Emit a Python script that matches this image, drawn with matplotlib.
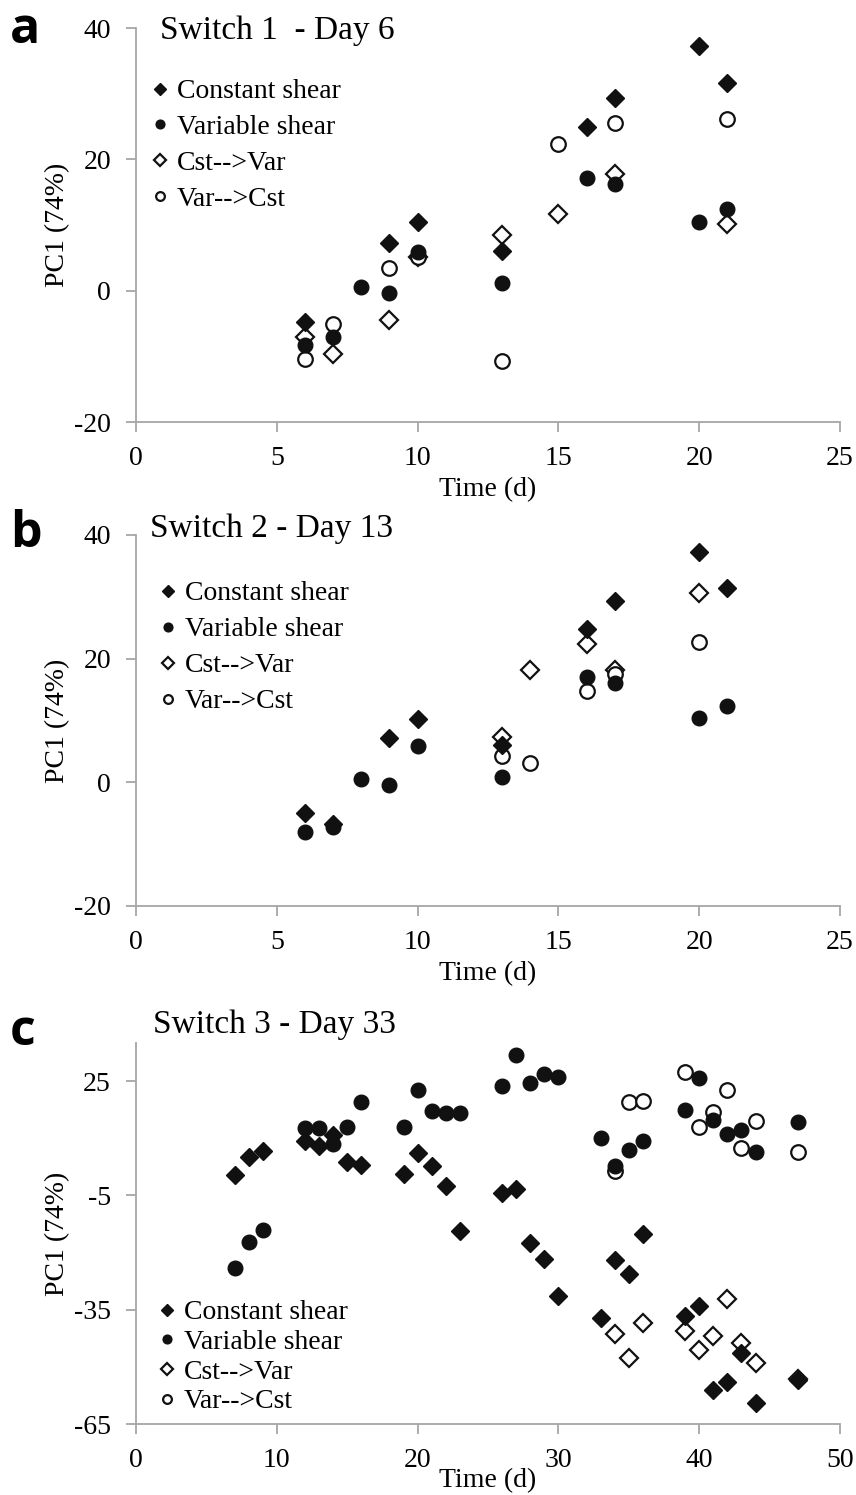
import matplotlib
matplotlib.use('Agg')
import matplotlib.pyplot as plt

plt.rcParams['font.family'] = ['Liberation Serif', 'DejaVu Serif']
plt.rcParams['axes.unicode_minus'] = False

# ---- panel a: Switch 1 - Day 6
a_cst_x = [6, 9, 10, 13, 16, 17, 20, 21]
a_cst_y = [-4.7, 7.3, 10.4, 6.1, 25.0, 29.4, 37.3, 31.6]
a_var_x = [6, 7, 8, 9, 10, 13, 16, 17, 20, 21]
a_var_y = [-8.2, -7.0, 0.6, -0.3, 5.9, 1.1, 17.1, 16.2, 10.5, 12.5]
a_c2v_x = [6, 7, 9, 10, 13, 15, 17, 21]
a_c2v_y = [-7.0, -9.6, -4.4, 5.2, 8.5, 11.7, 17.7, 10.1]
a_v2c_x = [6, 7, 9, 10, 13, 15, 17, 21]
a_v2c_y = [-10.4, -5.0, 3.5, 5.2, -10.7, 22.3, 25.5, 26.1]

# ---- panel b: Switch 2 - Day 13
b_cst_x = [6, 7, 9, 10, 13, 16, 17, 20, 21]
b_cst_y = [-4.9, -6.8, 7.1, 10.2, 6.0, 24.8, 29.3, 37.2, 31.4]
b_var_x = [6, 7, 8, 9, 10, 13, 16, 17, 20, 21]
b_var_y = [-8.1, -7.2, 0.5, -0.5, 5.8, 0.8, 17.0, 16.0, 10.4, 12.3]
b_c2v_x = [13, 14, 16, 17, 20]
b_c2v_y = [7.4, 18.1, 22.3, 18.1, 30.7]
b_v2c_x = [13, 14, 16, 17, 20]
b_v2c_y = [4.2, 3.1, 14.7, 17.5, 22.7]

# ---- panel c: Switch 3 - Day 33
c_cst_x = [7, 8, 9, 12, 13, 14, 15, 16, 19, 20, 21, 22, 23, 26, 27, 28, 29, 30,
           33, 34, 35, 36, 39, 40, 41, 42, 43, 44, 47]
c_cst_y = [0.3, 5.1, 6.6, 9.3, 7.9, 10.8, 3.7, 3.0, 0.6, 6.1, 2.7, -2.6, -14.4,
           -4.4, -3.3, -17.5, -21.7, -31.4, -37.2, -22.0, -25.7, -15.2, -36.7,
           -34.1, -56.1, -54.0, -46.4, -59.5, -53.5]
c_var_x = [7, 8, 9, 12, 13, 14, 15, 16, 19, 20, 21, 22, 23, 26, 27, 28, 29, 30,
           33, 34, 35, 36, 39, 40, 41, 42, 43, 44, 47]
c_var_y = [-24.1, -17.3, -14.1, 12.7, 12.7, 8.5, 12.9, 19.5, 12.9, 22.6, 17.1,
           16.6, 16.6, 23.7, 31.8, 24.5, 26.8, 26.1, 10.0, 2.7, 6.9, 9.3, 17.4,
           25.8, 14.8, 11.1, 12.1, 6.4, 14.2]
c_c2v_x = [34, 35, 36, 39, 40, 41, 42, 43, 44, 47]
c_c2v_y = [-41.4, -47.7, -38.5, -40.6, -45.6, -41.9, -32.2, -43.8, -49.0, -53.3]
c_v2c_x = [34, 35, 36, 39, 40, 41, 42, 43, 44, 47]
c_v2c_y = [1.4, 19.5, 19.8, 27.4, 12.9, 16.9, 22.6, 7.4, 14.5, 6.4]

labels = ['Constant shear', 'Variable shear', 'Cst-->Var', 'Var-->Cst']
titles = ['Switch 1  - Day 6', 'Switch 2 - Day 13', 'Switch 3 - Day 33']

W, H = 856, 1495
fig = plt.figure(figsize=(W / 100, H / 100), dpi=100)


def px_axes(left, top, right, bottom):
    return fig.add_axes([left / W, 1 - bottom / H, (right - left) / W, (bottom - top) / H])


axes = [px_axes(136, 28, 840, 422), px_axes(136, 535, 840, 906), px_axes(136, 1043, 840, 1424)]

data = [
    [(a_cst_x, a_cst_y), (a_var_x, a_var_y), (a_c2v_x, a_c2v_y), (a_v2c_x, a_v2c_y)],
    [(b_cst_x, b_cst_y), (b_var_x, b_var_y), (b_c2v_x, b_c2v_y), (b_v2c_x, b_v2c_y)],
    [(c_cst_x, c_cst_y), (c_var_x, c_var_y), (c_c2v_x, c_c2v_y), (c_v2c_x, c_v2c_y)],
]
styles = [
    dict(marker='D', ms=9.5, mfc='#111111', mec='#111111', mew=1.0),
    dict(marker='o', ms=10.5, mfc='#111111', mec='#111111', mew=1.0),
    dict(marker='D', ms=9.5, mfc='white', mec='#111111', mew=1.6),
    dict(marker='o', ms=10.5, mfc='white', mec='#111111', mew=1.6),
]
# open markers first so filled ones sit on top like the original
order = [2, 3, 0, 1]

grey = '#a6a6a6'
leg_pos = [(152, 79), (160, 581), (159, 1300)]
leg_space = [0.37, 0.38, 0.15]

for i, ax in enumerate(axes):
    handles = [None] * 4
    for k in order:
        x, y = data[i][k]
        h, = ax.plot(x, y, ls='none', label=labels[k], zorder=3 + (k < 2), **styles[k])
        handles[k] = h
    if i < 2:
        ax.set_xlim(0, 25)
        ax.set_ylim(-20, 40)
        ax.set_xticks(range(0, 26, 5))
        ax.set_yticks([-20, 0, 20, 40])
    else:
        ax.set_xlim(0, 50)
        ax.set_ylim(-65, 35)
        ax.set_xticks(range(0, 51, 10))
        ax.set_yticks([-65, -35, -5, 25])
    for s in ['top', 'right']:
        ax.spines[s].set_visible(False)
    for s in ['left', 'bottom']:
        ax.spines[s].set_color(grey)
        ax.spines[s].set_linewidth(1.3)
    ax.tick_params(direction='out', length=7, width=1.3, color=grey, labelsize=20)
    ax.tick_params(axis='x', pad=10)
    ax.tick_params(axis='y', pad=11)
    ax.set_ylabel('PC1 (74%)', fontsize=20)
    ax.yaxis.set_label_coords(-0.094, 0.5)
    ax.set_xlabel('Time (d)', fontsize=20, labelpad=5 if i < 2 else -3)
    ax.legend(handles=handles, loc='upper left', frameon=False, fontsize=20,
              markerscale=0.6, handlelength=0.6, handletextpad=0.3,
              labelspacing=leg_space[i], borderaxespad=0, borderpad=0,
              bbox_to_anchor=(leg_pos[i][0] / W, 1 - leg_pos[i][1] / H),
              bbox_transform=fig.transFigure)

fig.text(160 / W, 1 - 39 / H, titles[0], fontsize=24, va='baseline', ha='left')
fig.text(150 / W, 1 - 537 / H, titles[1], fontsize=24, va='baseline', ha='left')
fig.text(153 / W, 1 - 1033 / H, titles[2], fontsize=24, va='baseline', ha='left')

for lab, y in zip(['a', 'b', 'c'], [43, 547, 1045]):
    fig.text(10 / W, 1 - y / H, lab, fontsize=36, fontweight='bold',
             family='Open Sans', va='baseline', ha='left')

fig.savefig('out.png', dpi=100)
